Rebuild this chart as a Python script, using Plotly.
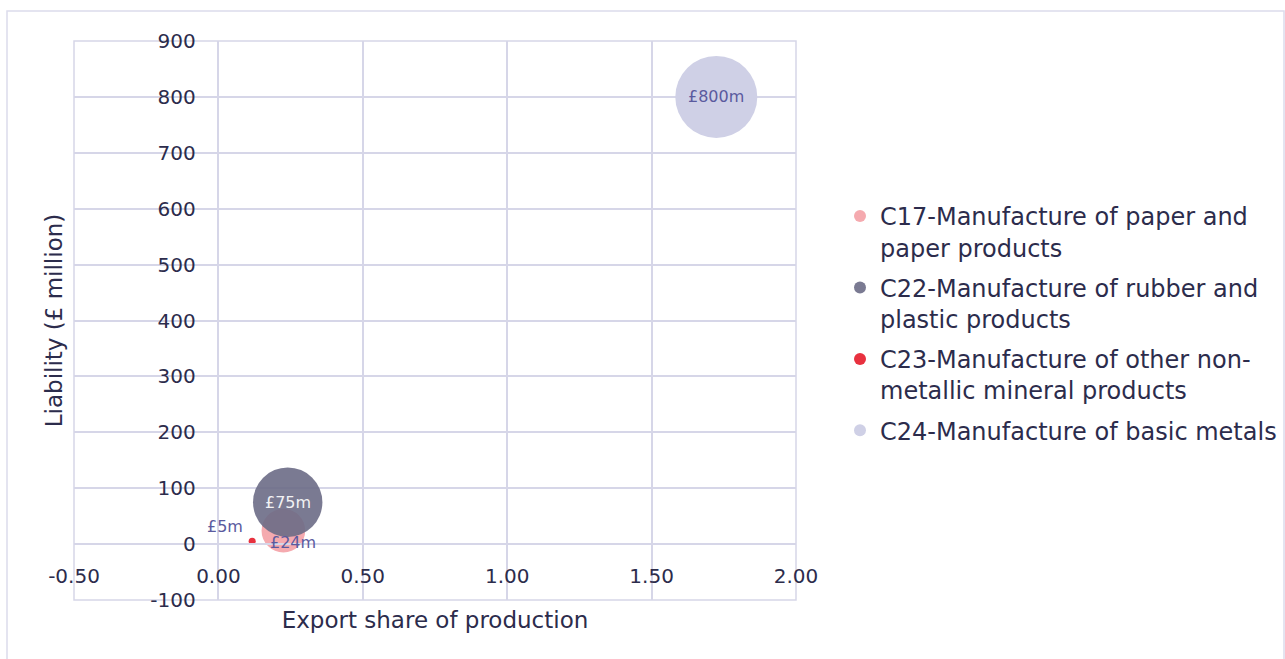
import plotly.graph_objects as go

# Sector data
sectors = [
    "C17-Manufacture of paper and<br>paper products",
    "C22-Manufacture of rubber and<br>plastic products",
    "C23-Manufacture of other non-<br>metallic mineral products",
    "C24-Manufacture of basic metals",
]
export_share = [0.225, 0.24, 0.117, 1.724]
liability_m = [24, 75, 5, 800]
bubble_size = [19, 48, 0.5, 67]
colors = ["#f5aaaf", "#6c6c86", "#e8313f", "#cfd0e6"]
opacities = [1.0, 0.9, 1.0, 1.0]

x_ticks = [-0.5, 0.0, 0.5, 1.0, 1.5, 2.0]
y_ticks = [-100, 0, 100, 200, 300, 400, 500, 600, 700, 800, 900]

# Value label styling: (text colour, x shift px, y shift px)
label_style = [
    ("#5a5a9e", 10, -12),
    ("#f2f2f4", 0, 0),
    ("#5a5a9e", -27, 15),
    ("#5a5a9e", 0, 0),
]

FONT = "DejaVu Sans"
TEXT = "#2c2c4c"
GRID = "#d6d6e8"
max_px = 82
sizeref = 2 * max(bubble_size) / max_px ** 2

fig = go.Figure()
for i, name in enumerate(sectors):
    fig.add_trace(go.Scatter(
        x=[export_share[i]], y=[liability_m[i]],
        mode="markers", name=name, legendgroup=f"g{i}",
        marker=dict(size=[bubble_size[i]], sizemode="area", sizeref=sizeref,
                    color=colors[i], opacity=opacities[i], line=dict(width=0)),
        hoverinfo="skip",
    ))

for i in range(len(sectors)):
    col, dx, dy = label_style[i]
    fig.add_annotation(
        x=export_share[i], y=liability_m[i], xref="x", yref="y",
        text=f"£{liability_m[i]}m", showarrow=False,
        xshift=dx, yshift=dy,
        font=dict(family=FONT, size=16, color=col),
    )

# plot-area frame
fig.add_shape(type="rect", xref="x domain", yref="y domain", x0=0, x1=1, y0=0, y1=1,
              line=dict(color=GRID, width=1.5), layer="below")
# chart-area frame
fig.add_shape(type="rect", xref="paper", yref="paper",
              x0=(7 - 74) / 722, x1=(1284 - 74) / 722,
              y0=-0.2, y1=(600 - 11) / 559,
              line=dict(color="#dcdcec", width=1.5), layer="below")

fig.update_layout(
    width=1285, height=659,
    margin=dict(l=74, r=489, t=41, b=59, autoexpand=False),
    paper_bgcolor="white", plot_bgcolor="white",
    font=dict(family=FONT, size=20, color=TEXT),
    showlegend=True,
    legend=dict(
        x=(840 - 74) / 722, xanchor="left",
        y=(600 - 194) / 559, yanchor="top",
        valign="top", itemsizing="constant", tracegroupgap=6,
        font=dict(family=FONT, size=24, color=TEXT),
        bgcolor="rgba(0,0,0,0)",
    ),
    xaxis=dict(
        range=[-0.5, 2.0], tickvals=x_ticks,
        ticktext=[f"{v:.2f}" for v in x_ticks],
        anchor="free", position=0.1,
        showgrid=True, gridcolor=GRID, gridwidth=1.5,
        zeroline=False, showline=True, linecolor=GRID, linewidth=1.5,
        ticks="", ticklabelstandoff=14,
        tickfont=dict(family=FONT, size=20, color=TEXT),
        title=dict(text="Export share of production", standoff=24,
                   font=dict(family=FONT, size=23, color=TEXT)),
    ),
    yaxis=dict(
        range=[-100, 900], tickvals=y_ticks,
        ticktext=[f"{v}" for v in y_ticks],
        anchor="free", position=0.2,
        showgrid=True, gridcolor=GRID, gridwidth=1.5,
        zeroline=False, showline=True, linecolor=GRID, linewidth=1.5,
        ticks="", ticklabelstandoff=18,
        tickfont=dict(family=FONT, size=20, color=TEXT),
        title=dict(text="Liability (£ million)", standoff=80,
                   font=dict(family=FONT, size=23, color=TEXT)),
    ),
)

fig.write_html("out.html")
